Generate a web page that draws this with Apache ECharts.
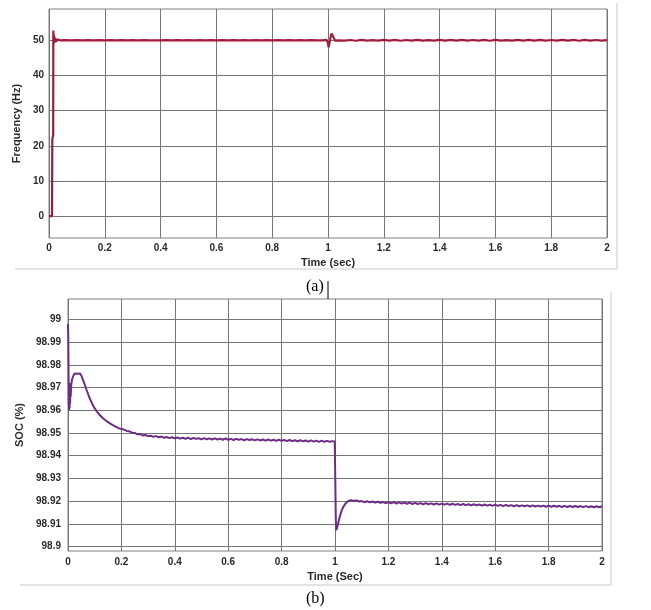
<!DOCTYPE html>
<html>
<head>
<meta charset="utf-8">
<script src="https://cdn.jsdelivr.net/npm/echarts@6/dist/echarts.min.js"></script>
<style>
html,body{margin:0;padding:0;background:#fff;}
#c{width:651px;height:610px;}
</style>
</head>
<body>
<div id="c"></div>
<script>
// ---------- DATA ----------
var timeTicks = [0, 0.2, 0.4, 0.6, 0.8, 1, 1.2, 1.4, 1.6, 1.8, 2];
var freqTicks = [0, 10, 20, 30, 40, 50];
var socTicks = [98.9, 98.91, 98.92, 98.93, 98.94, 98.95, 98.96, 98.97, 98.98, 98.99, 99];

var timeA = [0, 0.0108, 0.0112, 0.0118, 0.0124, 0.013, 0.0145, 0.015, 0.0155, 0.016, 0.0168, 0.0176, 0.0184, 0.0192, 0.02, 0.022, 0.024, 0.026, 0.028, 0.03, 0.033, 0.036, 0.04,
  0.06, 0.08, 0.10, 0.12, 0.14, 0.16, 0.18, 0.20, 0.22, 0.24, 0.26, 0.28, 0.30, 0.32, 0.34, 0.36, 0.38, 0.40, 0.42, 0.44, 0.46, 0.48, 0.50,
  0.52, 0.54, 0.56, 0.58, 0.60, 0.62, 0.64, 0.66, 0.68, 0.70, 0.72, 0.74, 0.76, 0.78, 0.80, 0.82, 0.84, 0.86, 0.88, 0.90, 0.92, 0.94, 0.96, 0.98,
  0.995, 1.0, 1.002, 1.004, 1.006, 1.008, 1.01, 1.013, 1.016, 1.019, 1.022, 1.025, 1.028, 1.032, 1.036, 1.04,
  1.06, 1.08, 1.10, 1.12, 1.14, 1.16, 1.18, 1.20, 1.22, 1.24, 1.26, 1.28, 1.30, 1.32, 1.34, 1.36, 1.38, 1.40, 1.42, 1.44, 1.46, 1.48, 1.50,
  1.52, 1.54, 1.56, 1.58, 1.60, 1.62, 1.64, 1.66, 1.68, 1.70, 1.72, 1.74, 1.76, 1.78, 1.80, 1.82, 1.84, 1.86, 1.88, 1.90, 1.92, 1.94, 1.96, 1.98, 2.0];
var freqA = [0, 0, 0.3, 21.5, 22.2, 22.4, 22.6, 23, 52.8, 53.2, 49.4, 51.6, 49.2, 51, 49.6, 50.7, 49.5, 50.4, 49.7, 50.3, 49.8, 50.15, 50.0,
  50.04, 49.97, 50.05, 49.96, 50.03, 49.97, 50.05, 49.96, 50.03, 49.97, 50.04, 49.96, 50.03, 49.98, 50.05, 49.96, 50.02, 49.97, 50.04, 49.96, 50.03, 49.97, 50.05,
  49.96, 50.03, 49.97, 50.04, 49.96, 50.03, 49.97, 50.04, 49.96, 50.03, 49.97, 50.05, 49.96, 50.03, 49.97, 50.04, 49.96, 50.03, 49.97, 50.04, 49.96, 50.03, 49.97,
  50.0, 50.1, 49.2, 48.0, 48.4, 49.5, 50.3, 51.2, 51.9, 52.1, 51.4, 50.5, 49.9, 49.7, 50.2, 50.0,
  50.12, 49.9, 50.08, 49.88, 50.14, 49.92, 50.06, 49.9, 50.12, 49.93, 50.1, 49.88, 50.08, 49.92, 50.14, 49.9, 50.06, 49.93, 50.12, 49.89, 50.1, 49.92, 50.13,
  49.9, 50.08, 49.92, 50.14, 49.88, 50.1, 49.92, 50.07, 49.9, 50.12, 49.93, 50.1, 49.89, 50.14, 49.91, 50.08, 49.9, 50.12, 49.92, 50.1, 49.88, 50.13, 49.91, 50.08, 49.93, 50.05];

var timeB = [0, 0.001, 0.002, 0.003, 0.004, 0.005, 0.006, 0.007, 0.008, 0.009, 0.01, 0.012, 0.015, 0.02, 0.025, 0.03, 0.035, 0.04, 0.045, 0.05,
  0.06, 0.07, 0.08, 0.09, 0.10, 0.11, 0.12, 0.13, 0.14, 0.15, 0.16, 0.17, 0.18, 0.19, 0.20,
  0.21, 0.22, 0.23, 0.24, 0.25, 0.26, 0.27, 0.28, 0.29, 0.30, 0.31, 0.32, 0.33, 0.34, 0.35, 0.36, 0.37, 0.38, 0.39, 0.40,
  0.41, 0.42, 0.43, 0.44, 0.45, 0.46, 0.47, 0.48, 0.49, 0.50, 0.51, 0.52, 0.53, 0.54, 0.55, 0.56, 0.57, 0.58, 0.59, 0.60,
  0.61, 0.62, 0.63, 0.64, 0.65, 0.66, 0.67, 0.68, 0.69, 0.70, 0.71, 0.72, 0.73, 0.74, 0.75, 0.76, 0.77, 0.78, 0.79, 0.80,
  0.81, 0.82, 0.83, 0.84, 0.85, 0.86, 0.87, 0.88, 0.89, 0.90, 0.91, 0.92, 0.93, 0.94, 0.95, 0.96, 0.97, 0.98, 0.99,
  0.999, 1.001, 1.003, 1.005, 1.007, 1.01, 1.015, 1.02, 1.025, 1.03, 1.04, 1.05, 1.06, 1.07, 1.08, 1.09, 1.10,
  1.11, 1.12, 1.13, 1.14, 1.15, 1.16, 1.17, 1.18, 1.19, 1.20, 1.21, 1.22, 1.23, 1.24, 1.25, 1.26, 1.27, 1.28, 1.29, 1.30,
  1.31, 1.32, 1.33, 1.34, 1.35, 1.36, 1.37, 1.38, 1.39, 1.40, 1.41, 1.42, 1.43, 1.44, 1.45, 1.46, 1.47, 1.48, 1.49, 1.50,
  1.51, 1.52, 1.53, 1.54, 1.55, 1.56, 1.57, 1.58, 1.59, 1.60, 1.61, 1.62, 1.63, 1.64, 1.65, 1.66, 1.67, 1.68, 1.69, 1.70,
  1.71, 1.72, 1.73, 1.74, 1.75, 1.76, 1.77, 1.78, 1.79, 1.80, 1.81, 1.82, 1.83, 1.84, 1.85, 1.86, 1.87, 1.88, 1.89, 1.90,
  1.91, 1.92, 1.93, 1.94, 1.95, 1.96, 1.97, 1.98, 1.99, 2.00];
var socB = [98.998, 98.992, 98.978, 98.963, 98.960, 98.968, 98.961, 98.971, 98.963, 98.972, 98.966, 98.971, 98.9735, 98.9752, 98.9762, 98.9766, 98.9761, 98.9767, 98.9762, 98.9753,
  98.9722, 98.9688, 98.9656, 98.9630, 98.9608, 98.9592, 98.9578, 98.9566, 98.9556, 98.9548, 98.9540, 98.9533, 98.9527, 98.9521, 98.9517,
  98.9515, 98.9509, 98.9507, 98.9501, 98.9500, 98.9494, 98.9495, 98.9489, 98.9491, 98.9486, 98.9488, 98.9483, 98.9486, 98.9481, 98.9484, 98.9479, 98.9482, 98.9477, 98.9481, 98.9476,
  98.9480, 98.9475, 98.9479, 98.9474, 98.9479, 98.9473, 98.9478, 98.9474, 98.9477, 98.9472, 98.9477, 98.9472, 98.9476, 98.9471, 98.9476, 98.9471, 98.9475, 98.9470, 98.9476, 98.9470,
  98.9474, 98.9469, 98.9474, 98.9470, 98.9473, 98.9468, 98.9473, 98.9469, 98.9472, 98.9467, 98.9472, 98.9467, 98.9471, 98.9466, 98.9471, 98.9466, 98.9470, 98.9465, 98.9470, 98.9465,
  98.9469, 98.9464, 98.9469, 98.9464, 98.9468, 98.9463, 98.9468, 98.9463, 98.9467, 98.9462, 98.9467, 98.9462, 98.9466, 98.9461, 98.9466, 98.9461, 98.9465, 98.9461, 98.9464,
  98.9462, 98.930, 98.912, 98.9072, 98.9078, 98.9092, 98.9118, 98.9140, 98.9158, 98.9172, 98.9190, 98.9200, 98.9204, 98.9200, 98.9203, 98.9198, 98.9200,
  98.9195, 98.9199, 98.9194, 98.9198, 98.9193, 98.9197, 98.9192, 98.9196, 98.9191, 98.9195, 98.9190, 98.9195, 98.9189, 98.9194, 98.9189, 98.9193, 98.9188, 98.9193, 98.9187, 98.9192,
  98.9187, 98.9191, 98.9186, 98.9191, 98.9186, 98.9190, 98.9185, 98.9190, 98.9184, 98.9189, 98.9184, 98.9189, 98.9183, 98.9188, 98.9183, 98.9187, 98.9182, 98.9187, 98.9182, 98.9186,
  98.9181, 98.9186, 98.9181, 98.9185, 98.9180, 98.9185, 98.9180, 98.9184, 98.9179, 98.9184, 98.9179, 98.9183, 98.9178, 98.9183, 98.9178, 98.9182, 98.9177, 98.9182, 98.9177, 98.9181,
  98.9177, 98.9181, 98.9176, 98.9181, 98.9176, 98.9180, 98.9176, 98.9180, 98.9175, 98.9180, 98.9175, 98.9179, 98.9175, 98.9179, 98.9174, 98.9179, 98.9174, 98.9178, 98.9174, 98.9178,
  98.9174, 98.9178, 98.9173, 98.9178, 98.9173, 98.9177, 98.9173, 98.9177, 98.9173, 98.9177];

// ---------- CHART ----------
function pairs(xs, ys) { var o = []; for (var i = 0; i < xs.length; i++) o.push([xs[i], ys[i]]); return o; }
var FONT = '"Liberation Sans", Arial, sans-serif';
var gridLine = { show: true, lineStyle: { color: '#767676', width: 1 } };
var lbl = function (m) { return { color: '#2a2a2a', fontFamily: FONT, fontWeight: 'bold', fontSize: 10, margin: m }; };

function xAx(gi, name, gap, m) {
  var l = lbl(m); l.customValues = timeTicks;
  return {
    type: 'value', gridIndex: gi, min: 0, max: 2,
    axisLine: { show: false }, axisTick: { show: false, customValues: timeTicks },
    axisLabel: l, splitLine: gridLine,
    name: name, nameLocation: 'middle', nameGap: gap,
    nameTextStyle: { color: '#2a2a2a', fontFamily: FONT, fontWeight: 'bold', fontSize: 11 }
  };
}
function yAx(gi, mn, mx, ticks, name, gap, m) {
  var l = lbl(m); l.customValues = ticks;
  return {
    type: 'value', gridIndex: gi, min: mn, max: mx, scale: true,
    axisLine: { show: false }, axisTick: { show: false, customValues: ticks },
    axisLabel: l, splitLine: gridLine,
    name: name, nameLocation: 'middle', nameGap: gap, nameRotate: 90,
    nameTextStyle: { color: '#2a2a2a', fontFamily: FONT, fontWeight: 'bold', fontSize: 11 }
  };
}

var chart = echarts.init(document.getElementById('c'), null, { renderer: 'canvas' });
chart.setOption({
  animation: false,
  backgroundColor: '#ffffff',
  grid: [
    { left: 49, top: 9, width: 558, height: 229, show: true, borderColor: '#808080', borderWidth: 1, backgroundColor: 'transparent' },
    { left: 68, top: 299, width: 534, height: 252, show: true, borderColor: '#808080', borderWidth: 1, backgroundColor: 'transparent' }
  ],
  xAxis: [xAx(0, 'Time (sec)', 19, 5), xAx(1, 'Time (Sec)', 20, 6)],
  yAxis: [yAx(0, -6.2, 58.9, freqTicks, 'Frequency (Hz)', 21, 5), yAx(1, 98.898, 99.009, socTicks, 'SOC (%)', 34, 7)],
  series: [
    { type: 'line', xAxisIndex: 0, yAxisIndex: 0, data: pairs(timeA, freqA), showSymbol: false,
      lineStyle: { color: '#a01b3c', width: 2.2 }, itemStyle: { color: '#a01b3c' } },
    { type: 'line', xAxisIndex: 1, yAxisIndex: 1, data: pairs(timeB, socB), showSymbol: false,
      lineStyle: { color: '#6e2d85', width: 2 }, itemStyle: { color: '#6e2d85' } }
  ],
  graphic: [
    { type: 'line', shape: { x1: 15, y1: 269, x2: 617, y2: 269 }, style: { stroke: '#e4e4e4', lineWidth: 2 } },
    { type: 'line', shape: { x1: 617, y1: 3, x2: 617, y2: 269 }, style: { stroke: '#e4e4e4', lineWidth: 2 } },
    { type: 'line', shape: { x1: 20, y1: 585, x2: 611, y2: 585 }, style: { stroke: '#e4e4e4', lineWidth: 2 } },
    { type: 'line', shape: { x1: 611, y1: 292, x2: 611, y2: 585 }, style: { stroke: '#e4e4e4', lineWidth: 2 } },
    { type: 'text', left: 306, top: 279, style: { text: '(a)', fill: '#000', font: '16px "Liberation Serif", "Times New Roman", serif' } },
    { type: 'line', shape: { x1: 328, y1: 281, x2: 328, y2: 299 }, style: { stroke: '#000', lineWidth: 1 } },
    { type: 'text', left: 306, top: 591, style: { text: '(b)', fill: '#000', font: '16px "Liberation Serif", "Times New Roman", serif' } }
  ]
});
</script>
</body>
</html>
